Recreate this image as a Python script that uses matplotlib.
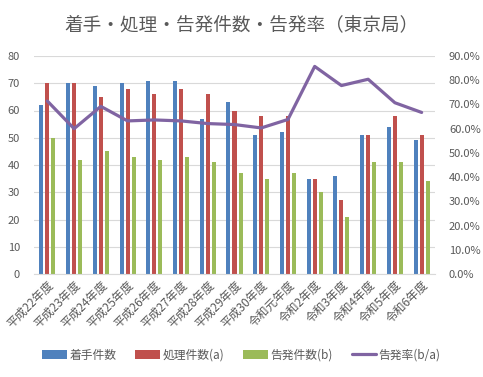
import numpy as np
import matplotlib
matplotlib.use('Agg')
import matplotlib.pyplot as plt
from matplotlib.ticker import PercentFormatter

plt.rcParams['font.family'] = ['Noto Sans CJK JP', 'DejaVu Sans']

years = ['平成22年度', '平成23年度', '平成24年度', '平成25年度', '平成26年度',
         '平成27年度', '平成28年度', '平成29年度', '平成30年度', '令和元年度',
         '令和2年度', '令和3年度', '令和4年度', '令和5年度', '令和6年度']
chakushu = [62, 70, 69, 70, 71, 71, 57, 63, 51, 52, 35, 36, 51, 54, 49]
shori = [70, 70, 65, 68, 66, 68, 66, 60, 58, 58, 35, 27, 51, 58, 51]
kokuhatsu = [50, 42, 45, 43, 42, 43, 41, 37, 35, 37, 30, 21, 41, 41, 34]
rate = [71.4, 60.0, 69.2, 63.2, 63.6, 63.2, 62.1, 61.7, 60.3, 63.8,
        85.7, 77.8, 80.4, 70.7, 66.7]

c_blue = '#4F81BD'
c_red = '#C0504D'
c_green = '#9BBB59'
c_purple = '#8064A2'
c_text = '#595959'
c_grid = '#D9D9D9'

fig = plt.figure(figsize=(4.83, 3.77), dpi=100)
ax = fig.add_axes([34/483, 1-274/377, 401/483, 218/377])
ax2 = ax.twinx()

x = np.arange(len(years))
w = 0.15
b1 = ax.bar(x - 0.225, chakushu, w, color=c_blue, label='着手件数', zorder=2)
b2 = ax.bar(x, shori, w, color=c_red, label='処理件数(a)', zorder=2)
b3 = ax.bar(x + 0.225, kokuhatsu, w, color=c_green, label='告発件数(b)', zorder=2)
ln, = ax2.plot(x, rate, color=c_purple, lw=2.3, label='告発率(b/a)', solid_capstyle='round')

ax.set_xlim(-0.5, len(years) - 0.5)
ax.set_ylim(0, 80)
ax.set_yticks(np.arange(0, 81, 10))
ax2.set_ylim(0, 90)
ax2.set_yticks(np.arange(0, 91, 10))
ax2.yaxis.set_major_formatter(PercentFormatter(decimals=1))

ax.grid(axis='y', color=c_grid, lw=0.8, zorder=0)
ax.set_axisbelow(True)
for a in (ax, ax2):
    for s in ['top', 'left', 'right']:
        a.spines[s].set_visible(False)
    a.spines['bottom'].set_color(c_grid)
    a.tick_params(length=0, labelsize=8, labelcolor=c_text)
ax2.spines['bottom'].set_visible(False)
ax.tick_params(axis='y', pad=10)
ax2.tick_params(axis='y', pad=10)

ax.set_xticks(x)
ax.set_xticklabels(years, rotation=45, ha='right', va='top', rotation_mode='anchor',
                   fontsize=8.5)
ax.tick_params(axis='x', pad=3)

fig.text(0.5, 1-25/377, '着手・処理・告発件数・告発率（東京局）', ha='center', va='center',
         fontsize=13.4, color=c_text)

fig.legend([b1, b2, b3, ln], ['着手件数', '処理件数(a)', '告発件数(b)', '告発率(b/a)'],
           loc='center', bbox_to_anchor=(0.5, 1-355/377), ncol=4, frameon=False,
           fontsize=8.5, labelcolor=c_text, handlelength=2.1, handleheight=0.7,
           handletextpad=0.2, columnspacing=1.6)

fig.savefig('out.png', dpi=100)
